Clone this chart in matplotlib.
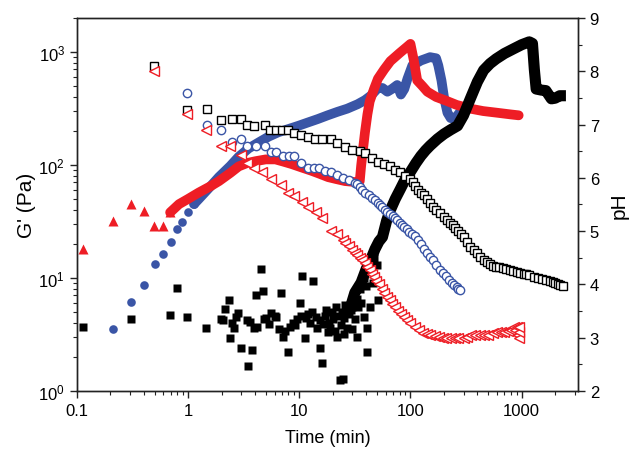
import matplotlib
matplotlib.use('Agg')
import matplotlib.pyplot as plt
from matplotlib import ticker

plt.rcParams['font.family'] = ['Liberation Sans', 'DejaVu Sans']
plt.rcParams['mathtext.default'] = 'regular'

RED = '#ee1d25'
BLUE = '#3a55a6'

# ---- G' (left axis), filled symbols ----
# black sample: scattered early points
blk_t = [0.113, 0.31, 0.69, 0.8, 0.98, 1.45, 1.96, 2.05, 2.15, 2.33, 2.4, 2.5, 2.6, 2.68,
         2.8, 3.0, 3.45, 3.4, 3.6, 3.75, 3.9, 4.1, 4.2, 4.5, 4.7, 4.8, 5.0, 5.3, 5.6, 6.0,
         6.2, 6.6, 6.9, 7.2, 7.5, 8.0, 8.3, 8.7, 9.2, 9.6, 10.2, 10.6, 10.4, 11.2, 11.5,
         12.0, 12.5, 13.3, 13.0, 14.0, 14.5, 15.3, 15.9, 15.5, 16.5, 17, 17.5, 18, 18.5,
         19, 19.5, 20, 21, 21.5, 22, 22.5, 23.2, 24.7, 23.5, 24, 25, 25.5, 26, 27, 28, 29,
         30, 31, 32, 33, 34, 41, 41, 51,
         30, 33, 35, 36, 38, 38, 40, 43, 45, 46, 47, 50]
blk_g = [3.7, 4.3, 4.65, 8.2, 4.55, 3.6, 4.3, 4.2, 5.35, 6.4, 2.96, 4.0, 3.6, 4.5,
         4.9, 2.4, 1.65, 4.2, 4.1, 2.3, 3.6, 7.0, 3.7, 12.1, 7.6, 4.3, 4.4, 3.9, 4.9, 4.6,
         4.5, 3.5, 7.3, 3.0, 3.4, 2.2, 3.7, 4.0, 3.8, 4.3, 6.0, 10.3, 4.6, 2.96, 4.4,
         4.8, 4.0, 9.3, 5.0, 4.5, 3.6, 2.4, 1.77, 4.2, 3.9, 4.6, 5.2, 3.3, 4.0,
         3.6, 5.0, 4.3, 3.4, 5.5, 3.0, 4.6, 1.25, 1.28, 3.8, 5.0, 3.2, 4.4, 5.8, 3.6, 4.8, 5.2,
         3.5, 6.3, 4.3, 3.0, 5.5, 3.6, 2.2, 6.4,
         5.5, 6.5, 8.0, 6.0, 10.0, 4.5, 8.5, 5.5, 12.0, 9.0, 15.0, 13.0]
# black sample: continuous rise
blk_band_t = [28, 31.6, 36, 40, 44, 48, 52, 56, 61, 66, 73, 81, 90, 100, 112, 124, 137, 150,
              175, 200, 230, 265, 300, 345, 400, 455, 520, 590, 700, 850, 1000, 1170, 1250,
              1300, 1350, 1500, 1650, 1850, 2000, 2200, 2500]
blk_band_g = [5.0, 7.4, 9.1, 12.0, 14.6, 18, 21, 23, 32, 40, 50, 61, 75, 87, 104, 120, 135, 148,
              170, 188, 205, 222, 275, 385, 545, 690, 790, 870, 970, 1070, 1160, 1230, 1190,
              700, 470, 460, 455, 385, 390, 410, 410]

# blue sample
blu_t = [0.21, 0.31, 0.4, 0.5, 0.6, 0.7, 0.8, 0.88, 1.0, 1.13]
blu_g = [3.5, 6.06, 8.6, 13.2, 16.2, 20.7, 27, 31, 38, 45]
blu_band_t = [1.13, 1.25, 1.6, 1.89, 2.4, 2.85, 3.5, 4.3, 5.3, 6.5, 8, 9.8, 12, 14.7, 18, 22,
              27, 33.5, 39, 44, 51, 56, 62, 68, 76, 82, 88, 94, 104, 124, 150, 170, 178, 190,
              200, 215, 230, 250, 265, 280]
blu_band_g = [45, 50, 65, 78, 98, 118, 140, 158, 178, 195, 208, 222, 238, 255, 275, 295,
              315, 345, 375, 410, 480, 480, 445, 470, 510, 420, 470, 580, 760, 840, 900, 880,
              760, 560, 400, 290, 260, 258, 275, 295]

# red sample
red_t = [0.113, 0.21, 0.31, 0.4, 0.49, 0.59, 0.69]
red_g = [18, 32, 45, 39, 29, 29, 38]
red_band_t = [0.69, 0.83, 1.0, 1.25, 1.6, 1.9, 2.4, 2.85, 3.4, 4.05, 5, 6.1, 7.2, 8.5, 10.5,
              12.8, 15, 18.2, 21.5, 25.8, 30, 33.5, 35, 36, 37.5, 39, 41, 43, 47, 51, 58, 66,
              80, 92, 100, 107, 115, 128, 142, 170, 210, 260, 346, 450, 600, 800, 940]
red_band_g = [38, 45, 50, 57, 65, 72, 85, 97, 104, 108, 112, 112, 107, 102, 95,
              89, 84, 78, 75, 72, 71, 70, 72, 98, 140, 195, 280, 365, 470, 580, 700, 830,
              980, 1100, 1180, 850, 560, 500, 445, 400, 370, 340, 315, 300, 290, 280, 275]

# ---- pH (right axis), open symbols ----
ph_blk_t = [0.49, 0.98, 1.47, 1.97, 2.5, 2.97, 3.4, 3.9, 4.9, 5.5, 6.2, 7, 8, 9, 10.4, 12,
            13.8, 16, 19.4, 22, 25.8, 30, 35, 39, 45, 51, 58, 66, 73, 81, 90, 100, 105, 110,
            117, 124, 131, 140, 150, 160, 170, 185, 200, 215, 228, 240, 252, 265, 282, 300,
            320, 346, 370, 400, 425, 455, 490, 520, 555, 590, 630, 680, 730, 780, 840, 900,
            970, 1050, 1100, 1170, 1300, 1400, 1520, 1650, 1780, 1900, 2000, 2100, 2200, 2340]
ph_blk = [8.09, 7.28, 7.3, 7.09, 7.1, 7.1, 7.0, 6.98, 7.0, 6.89, 6.89, 6.89, 6.89, 6.85, 6.8,
          6.77, 6.72, 6.72, 6.72, 6.65, 6.57, 6.52, 6.5, 6.47, 6.38, 6.3, 6.26, 6.22, 6.15,
          6.1, 6.03, 5.97, 5.92, 5.85, 5.78, 5.72, 5.67, 5.6, 5.53, 5.46, 5.4, 5.33, 5.27,
          5.21, 5.16, 5.12, 5.06, 5.0, 4.94, 4.88, 4.8, 4.71, 4.65, 4.58, 4.52, 4.46, 4.42,
          4.38, 4.35, 4.33, 4.32, 4.3, 4.28, 4.27, 4.25, 4.23, 4.22, 4.2, 4.19, 4.18, 4.14,
          4.12, 4.1, 4.09, 4.07, 4.05, 4.02, 4.0, 3.98, 3.96]

ph_blu_t = [0.98, 1.47, 1.97, 2.5, 2.97, 3.4, 4.1, 4.9, 5.6, 6.2, 7.2, 8.1, 9, 10.4, 12, 13.5,
            15, 17, 19.4, 22, 24.5, 28, 31.6, 33, 35, 37, 39, 42, 45, 48, 51, 53, 56, 59, 62,
            65, 69, 72, 76, 80, 84, 88, 93, 98, 103, 109, 116, 125, 133, 142, 150, 160, 170,
            185, 197, 210, 222, 235, 248, 260, 270, 280]
ph_blu = [7.6, 7.0, 6.89, 6.68, 6.72, 6.59, 6.59, 6.59, 6.49, 6.49, 6.4, 6.4, 6.4, 6.28, 6.19,
          6.19, 6.19, 6.12, 6.1, 6.05, 6.0, 5.95, 5.91, 5.88, 5.82, 5.77, 5.72, 5.67, 5.62,
          5.58, 5.53, 5.49, 5.45, 5.4, 5.35, 5.32, 5.28, 5.25, 5.21, 5.16, 5.12, 5.08, 5.03,
          4.98, 4.94, 4.9, 4.83, 4.75, 4.67, 4.59, 4.52, 4.45, 4.37, 4.27, 4.21, 4.15, 4.09,
          4.03, 3.99, 3.95, 3.92, 3.9]

ph_red_t = [0.49, 0.98, 1.45, 1.97, 2.4, 2.97, 3.4, 3.9, 4.6, 5.6, 6.9, 8, 9, 10.5, 12, 14, 16,
            19.4, 22, 24.5, 26, 28, 30, 31.6, 33, 35, 37, 39, 41, 43, 45, 47, 49, 52, 55, 58,
            61, 65, 68, 72, 77, 82, 88, 94, 100, 110, 120, 130, 140, 150, 165, 180, 195, 210,
            230, 250, 270, 300, 320, 350, 380, 420, 460, 500, 550, 600, 650, 700, 750, 800,
            860, 870, 900, 920, 940, 940, 940]
ph_red = [8.0, 7.19, 6.89, 6.59, 6.59, 6.42, 6.28, 6.19, 6.1, 5.97, 5.87, 5.72, 5.65, 5.55,
          5.45, 5.35, 5.25, 5.0, 4.95, 4.84, 4.78, 4.72, 4.65, 4.59, 4.55, 4.5, 4.45, 4.4,
          4.33, 4.27, 4.2, 4.14, 4.07, 4.0, 3.92, 3.84, 3.77, 3.7, 3.64, 3.58, 3.5, 3.45,
          3.38, 3.33, 3.27, 3.2, 3.14, 3.09, 3.06, 3.05, 3.03, 3.02, 3.0, 3.0, 3.0, 3.0,
          3.0, 3.0, 3.02, 3.05, 3.05, 3.05, 3.05, 3.05, 3.08, 3.1, 3.1, 3.1, 3.12, 3.15,
          3.2, 3.15, 3.2, 3.05, 3.0, 3.1, 3.2]

fig = plt.figure(figsize=(6.35, 4.52), dpi=100)
ax = fig.add_axes([0.121, 0.133, 0.789, 0.825])
ax2 = ax.twinx()

band = 7
# G' curves
ax.plot(blu_t, blu_g, 'o', color=BLUE, ms=6.2, mec='none')
ax.plot(blu_band_t, blu_band_g, '-', color=BLUE, lw=band, solid_joinstyle='round',
        solid_capstyle='round')
ax.plot(red_t, red_g, '^', color=RED, ms=7.5, mec='none')
ax.plot(red_band_t, red_band_g, '-', color=RED, lw=band, solid_joinstyle='round',
        solid_capstyle='round')
ax.plot(blk_t, blk_g, 's', color='black', ms=5.6, mec='none')
ax.plot(blk_band_t, blk_band_g, '-', color='black', lw=band + 1, solid_joinstyle='round',
        solid_capstyle='butt')

# pH curves
ax2.plot(ph_blk_t, ph_blk, 's', mfc='white', mec='black', ms=5.5, mew=1.0)
ax2.plot(ph_blu_t, ph_blu, 'o', mfc='white', mec=BLUE, ms=6, mew=1.0)
ax2.plot(ph_red_t, ph_red, '<', mfc='white', mec=RED, ms=6.8, mew=1.0)

ax.set_xscale('log')
ax.set_yscale('log')
ax.set_xlim(0.1, 3200)
ax.set_ylim(1, 2000)
ax2.set_ylim(2, 9)

ax.xaxis.set_major_formatter(ticker.FuncFormatter(lambda v, p: f'{v:g}'))
ax2.yaxis.set_major_locator(ticker.MultipleLocator(1))
ax2.yaxis.set_minor_locator(ticker.MultipleLocator(0.5))

for a in (ax, ax2):
    for s in a.spines.values():
        s.set_linewidth(1.0)
        s.set_color('#222222')
    a.tick_params(which='major', direction='out', length=5, width=1.0, labelsize=12,
                  color='#222222')
    a.tick_params(which='minor', direction='out', length=3, width=0.8, color='#222222')

ax.set_xlabel('Time (min)', fontsize=13, labelpad=8)
ax.set_ylabel("G' (Pa)", fontsize=15, labelpad=2)
ax2.set_ylabel('pH', fontsize=15, labelpad=8)

fig.savefig('out.png', dpi=100)
